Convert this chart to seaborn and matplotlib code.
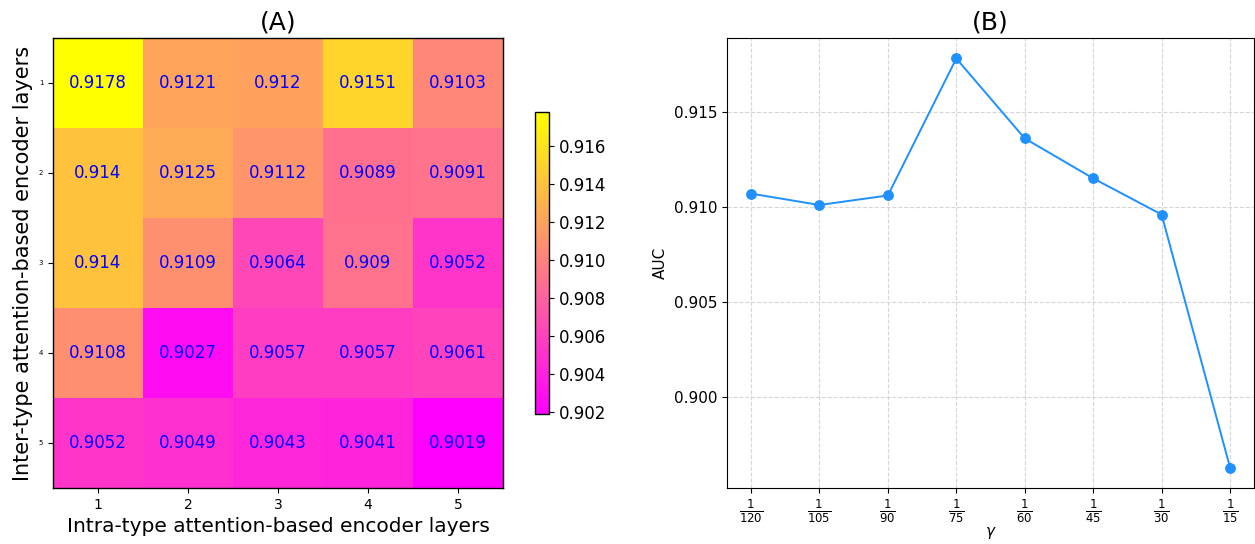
import numpy as np
import pandas as pd
import matplotlib
matplotlib.use("Agg")
import matplotlib.pyplot as plt
import seaborn as sns

# Grid search over encoder depths (rows: inter-type layers, cols: intra-type layers)
layer_ticks = [1, 2, 3, 4, 5]
auc_grid = [
    [0.9178, 0.9121, 0.9120, 0.9151, 0.9103],
    [0.9140, 0.9125, 0.9112, 0.9089, 0.9091],
    [0.9140, 0.9109, 0.9064, 0.9090, 0.9052],
    [0.9108, 0.9027, 0.9057, 0.9057, 0.9061],
    [0.9052, 0.9049, 0.9043, 0.9041, 0.9019],
]

# Sensitivity to gamma
gamma_labels = [r"$\frac{1}{120}$", r"$\frac{1}{105}$", r"$\frac{1}{90}$", r"$\frac{1}{75}$",
                r"$\frac{1}{60}$", r"$\frac{1}{45}$", r"$\frac{1}{30}$", r"$\frac{1}{15}$"]
gamma_auc = [0.9107, 0.9101, 0.9106, 0.9178, 0.9136, 0.9115, 0.9096, 0.8963]

fig = plt.figure(figsize=(12.55, 5.44), dpi=100)
ax_a = fig.add_axes([0.0422, 0.1029, 0.3586, 0.8272])
cax = fig.add_axes([0.4263, 0.239, 0.01116, 0.555])
ax_b = fig.add_axes([0.5793, 0.1029, 0.4199, 0.8272])

# (A) heatmap
grid_df = pd.DataFrame(auc_grid, index=layer_ticks, columns=layer_ticks)
annot_txt = np.array([[f"{v:g}" for v in row] for row in auc_grid])
sns.heatmap(grid_df, ax=ax_a, cmap="spring", annot=annot_txt, fmt="",
            annot_kws={"color": "blue", "fontsize": 12},
            cbar_ax=cax, linewidths=0)
for s in ax_a.spines.values():
    s.set_visible(True)
    s.set_color("black")
    s.set_linewidth(1.0)
ax_a.tick_params(axis="x", labelsize=10, length=3.5, rotation=0)
ax_a.tick_params(axis="y", labelsize=5, length=3.5, rotation=0)
ax_a.set_xlabel("Intra-type attention-based encoder layers", fontsize=14.5)
ax_a.set_ylabel("Inter-type attention-based encoder layers", fontsize=15)
ax_a.set_title("(A)", fontsize=18)

cbar = ax_a.collections[0].colorbar
cbar.set_ticks([0.902, 0.904, 0.906, 0.908, 0.910, 0.912, 0.914, 0.916])
cbar.ax.yaxis.set_major_formatter(matplotlib.ticker.FormatStrFormatter("%.3f"))
cbar.ax.tick_params(labelsize=12)
cbar.outline.set_visible(True)
cbar.outline.set_edgecolor("black")
cbar.outline.set_linewidth(1.0)

# (B) line plot
pos = np.arange(len(gamma_auc))
sns.lineplot(x=pos, y=gamma_auc, ax=ax_b, marker="o", color="#1E90FF",
             markersize=7, markeredgecolor="#1E90FF", linewidth=1.4)
ax_b.set_xticks(pos)
ax_b.set_xticklabels(gamma_labels, fontsize=12)
ax_b.set_yticks([0.900, 0.905, 0.910, 0.915])
ax_b.yaxis.set_major_formatter(matplotlib.ticker.FormatStrFormatter("%.3f"))
ax_b.tick_params(axis="y", labelsize=11)
ax_b.grid(True, linestyle="--", color="#cccccc", alpha=0.8)
ax_b.set_xlabel(r"$\gamma$", fontsize=11, labelpad=0)
ax_b.set_ylabel("AUC", fontsize=11)
ax_b.set_title("(B)", fontsize=18)

fig.savefig("out.png", dpi=100)
